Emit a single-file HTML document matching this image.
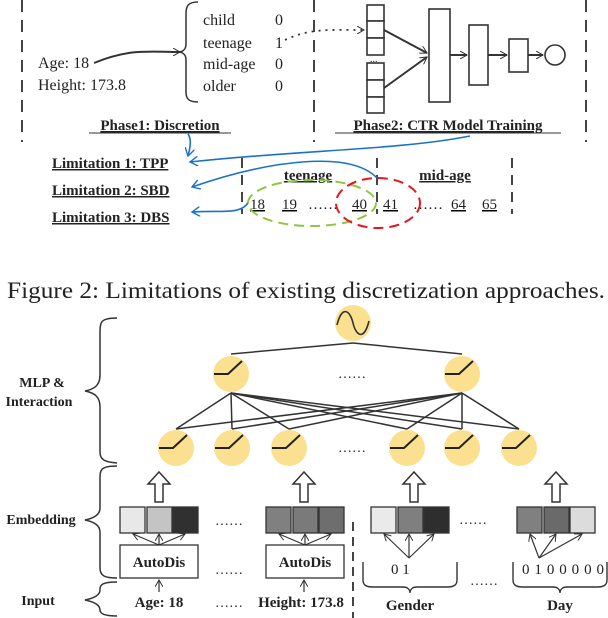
<!DOCTYPE html>
<html><head><meta charset="utf-8"><style>
html,body{margin:0;padding:0;background:#fff;}
svg{display:block;}
text{font-family:"Liberation Serif",serif;fill:#222;}
.b{font-weight:bold;}
</style></head><body>
<svg width="608" height="618" viewBox="0 0 608 618" xmlns="http://www.w3.org/2000/svg">
<defs>
<marker id="oa" markerWidth="8" markerHeight="8" refX="7" refY="4" orient="auto" markerUnits="userSpaceOnUse"><path d="M0,0 L7,4 L0,8" fill="none" stroke="#333" stroke-width="1"/></marker>
<marker id="ba" markerWidth="10" markerHeight="10" refX="8" refY="5" orient="auto" markerUnits="userSpaceOnUse"><path d="M0,0 L8,5 L0,10" fill="none" stroke="#1a72c8" stroke-width="1.4"/></marker>
</defs>
<g stroke="#444" stroke-width="2" stroke-dasharray="12,8">
<line x1="22" y1="0" x2="22" y2="142"/><line x1="314" y1="0" x2="314" y2="142"/><line x1="586" y1="0" x2="586" y2="142"/>
</g>
<text x="38" y="68" font-size="16">Age: 18</text>
<text x="38" y="90" font-size="16">Height: 173.8</text>
<path d="M94,63 C130,48 150,52 180,52" fill="none" stroke="#333" stroke-width="2" marker-end="url(#oa)"/>
<path d="M198,2 C188,2 186,6 186,14 L186,44 C186,50 182,52 178,52 C182,52 186,54 186,60 L186,92 C186,98 188,102 198,102" fill="none" stroke="#333" stroke-width="1.5"/>
<g font-size="16"><text x="203" y="25">child</text><text x="203" y="48">teenage</text><text x="203" y="69">mid-age</text><text x="203" y="91">older</text>
<text x="275" y="25">0</text><text x="275" y="48">1</text><text x="275" y="69">0</text><text x="275" y="91">0</text></g>
<path d="M285,40 C310,28 330,30 364,30" fill="none" stroke="#333" stroke-width="1.8" stroke-dasharray="2,5" marker-end="url(#oa)"/>
<g fill="#fff" stroke="#333" stroke-width="1.6">
<rect x="367" y="5" width="17" height="16"/><rect x="367" y="21" width="17" height="17"/><rect x="367" y="38" width="17" height="17"/>
<rect x="367" y="63" width="17" height="17"/><rect x="367" y="80" width="17" height="17"/><rect x="367" y="97" width="17" height="16"/>
<rect x="429" y="9" width="21" height="93"/><rect x="469" y="25" width="19" height="60"/><rect x="509" y="39" width="19" height="33"/>
<circle cx="555" cy="55" r="10"/></g>
<text x="370" y="62" font-size="10">...</text>
<g stroke="#333" stroke-width="2" fill="none">
<line x1="384" y1="30" x2="427" y2="53" marker-end="url(#oa)"/><line x1="384" y1="88" x2="427" y2="57" marker-end="url(#oa)"/>
<line x1="450" y1="55" x2="467" y2="55" marker-end="url(#oa)"/><line x1="488" y1="55" x2="507" y2="55" marker-end="url(#oa)"/><line x1="528" y1="55" x2="543" y2="55" marker-end="url(#oa)"/>
</g>
<text x="160" y="130" font-size="15" class="b" text-anchor="middle" text-decoration="underline">Phase1: Discretion</text>
<line x1="89" y1="133" x2="231" y2="133" stroke="#333"/>
<text x="448" y="130" font-size="15" class="b" text-anchor="middle" text-decoration="underline">Phase2: CTR Model Training</text>
<line x1="335" y1="133" x2="561" y2="133" stroke="#333"/>
<g font-size="15" class="b">
<text x="52" y="168" text-decoration="underline">Limitation 1: TPP</text>
<text x="52" y="195" text-decoration="underline">Limitation 2: SBD</text>
<text x="52" y="222" text-decoration="underline">Limitation 3: DBS</text>
<text x="308" y="180" text-anchor="middle" text-decoration="underline">teenage</text>
<text x="445" y="180" text-anchor="middle" text-decoration="underline">mid-age</text></g>
<g stroke="#444" stroke-width="2" stroke-dasharray="10,7">
<line x1="242" y1="158" x2="242" y2="214"/><line x1="377" y1="158" x2="377" y2="214"/><line x1="512" y1="158" x2="512" y2="214"/></g>
<g font-size="15" text-decoration="underline"><text x="250" y="209">18</text><text x="282" y="209">19</text><text x="352" y="209">40</text><text x="383" y="209">41</text><text x="451" y="209">64</text><text x="482" y="209">65</text></g>
<text x="308" y="209" font-size="15">……</text><text x="413" y="209" font-size="15">……</text>
<ellipse cx="312" cy="203" rx="64" ry="23" fill="none" stroke="#8dc63f" stroke-width="2" stroke-dasharray="10,6"/>
<ellipse cx="378" cy="203" rx="42" ry="25" fill="none" stroke="#e8141c" stroke-width="2" stroke-dasharray="10,6"/>
<g stroke="#1a72c8" stroke-width="1.6" fill="none">
<path d="M188,134 C192,140 190,148 188,156" marker-end="url(#ba)"/>
<path d="M470,136 C400,150 300,150 190,162" marker-end="url(#ba)"/>
<path d="M377,178 C350,150 270,160 192,187" marker-end="url(#ba)"/>
<path d="M248,203 C240,215 220,210 192,212" marker-end="url(#ba)"/></g>
<text x="306" y="298" font-size="23" text-anchor="middle" textLength="598" lengthAdjust="spacingAndGlyphs">Figure 2: Limitations of existing discretization approaches.</text>
<g font-size="14" class="b" text-anchor="middle"><text x="42" y="387">MLP &amp;</text><text x="39" y="406">Interaction</text><text x="41" y="524">Embedding</text><text x="38" y="605">Input</text></g>
<g stroke="#333" stroke-width="1.5" fill="none">
<path d="M117,318 C100,318 100,322 100,335 L100,375 C100,385 95,389 85,391 C95,393 100,397 100,407 L100,452 C100,460 105,462 117,463"/>
<path d="M117,466 C100,466 100,470 100,480 L100,508 C100,514 95,518 85,520 C95,522 100,526 100,532 L100,568 C100,576 105,578 117,578"/>
<path d="M117,582 C100,582 100,586 100,590 C100,595 95,598 85,600 C95,602 100,605 100,610 C100,614 105,616 117,616"/></g>
<g stroke="#333" stroke-width="1.5">
<line x1="231" y1="354" x2="353" y2="343"/><line x1="462" y1="354" x2="353" y2="343"/>
<line x1="231" y1="393" x2="176" y2="429"/><line x1="231" y1="393" x2="232" y2="429"/><line x1="231" y1="393" x2="289" y2="429"/><line x1="231" y1="393" x2="407" y2="429"/><line x1="231" y1="393" x2="462" y2="429"/><line x1="231" y1="393" x2="519" y2="429"/>
<line x1="462" y1="393" x2="176" y2="429"/><line x1="462" y1="393" x2="232" y2="429"/><line x1="462" y1="393" x2="289" y2="429"/><line x1="462" y1="393" x2="407" y2="429"/><line x1="462" y1="393" x2="462" y2="429"/><line x1="462" y1="393" x2="519" y2="429"/>
</g>
<g fill="#fbe08f">
<circle cx="353" cy="323" r="18"/><circle cx="231" cy="374" r="18"/><circle cx="462" cy="374" r="18"/>
<circle cx="176" cy="448" r="18"/><circle cx="232" cy="448" r="18"/><circle cx="289" cy="448" r="18"/><circle cx="407" cy="448" r="18"/><circle cx="462" cy="448" r="18"/><circle cx="519" cy="448" r="18"/></g>
<path d="M337,325 C342,305 350,310 353,323 C356,336 364,341 369,321" fill="none" stroke="#333" stroke-width="1.6"/>
<g stroke="#222" stroke-width="2" fill="none">
<path d="M214,374 h14 l14,-13"/><path d="M445,374 h14 l14,-13"/>
<path d="M159,448 h14 l14,-13"/><path d="M215,448 h14 l14,-13"/><path d="M272,448 h14 l14,-13"/><path d="M390,448 h14 l14,-13"/><path d="M445,448 h14 l14,-13"/><path d="M502,448 h14 l14,-13"/></g>
<g font-size="14"><text x="338" y="378">……</text><text x="338" y="452">……</text></g>
<g fill="#fff" stroke="#333" stroke-width="1.5">
<path d="M155,502 v-18 h-7 l11,-12 l11,12 h-7 v18 z"/>
<path d="M300,502 v-18 h-7 l11,-12 l11,12 h-7 v18 z"/>
<path d="M410,502 v-18 h-7 l11,-12 l11,12 h-7 v18 z"/>
<path d="M552,502 v-18 h-7 l11,-12 l11,12 h-7 v18 z"/></g>
<g stroke="#333" stroke-width="1.3">
<rect x="120" y="507" width="25" height="26" fill="#e8e8e8"/><rect x="147" y="507" width="25" height="26" fill="#c4c4c4"/><rect x="173" y="507" width="25" height="26" fill="#303030"/>
<rect x="266" y="507" width="25" height="26" fill="#808080"/><rect x="293" y="507" width="25" height="26" fill="#7a7a7a"/><rect x="319" y="507" width="25" height="26" fill="#6e6e6e"/>
<rect x="371" y="507" width="25" height="26" fill="#eaeaea"/><rect x="398" y="507" width="25" height="26" fill="#7f7f7f"/><rect x="424" y="507" width="25" height="26" fill="#2e2e2e"/>
<rect x="517" y="507" width="25" height="26" fill="#808080"/><rect x="544" y="507" width="25" height="26" fill="#6a6a6a"/><rect x="570" y="507" width="25" height="26" fill="#dcdcdc"/>
<rect x="120" y="545" width="78" height="33" fill="#fff"/><rect x="266" y="545" width="78" height="33" fill="#fff"/></g>
<g stroke="#333" stroke-width="1.2" fill="none">
<line x1="159" y1="545" x2="133" y2="534" marker-end="url(#oa)"/><line x1="159" y1="545" x2="159" y2="534" marker-end="url(#oa)"/><line x1="159" y1="545" x2="185" y2="534" marker-end="url(#oa)"/>
<line x1="305" y1="545" x2="279" y2="534" marker-end="url(#oa)"/><line x1="305" y1="545" x2="305" y2="534" marker-end="url(#oa)"/><line x1="305" y1="545" x2="331" y2="534" marker-end="url(#oa)"/>
<line x1="159" y1="592" x2="159" y2="580" marker-end="url(#oa)"/><line x1="304" y1="592" x2="304" y2="580" marker-end="url(#oa)"/>
<line x1="409" y1="558" x2="384" y2="534" marker-end="url(#oa)"/><line x1="409" y1="558" x2="409" y2="534" marker-end="url(#oa)"/><line x1="409" y1="558" x2="434" y2="534" marker-end="url(#oa)"/>
<line x1="539" y1="558" x2="530" y2="534" marker-end="url(#oa)"/><line x1="539" y1="558" x2="556" y2="534" marker-end="url(#oa)"/><line x1="539" y1="558" x2="582" y2="534" marker-end="url(#oa)"/>
<path d="M363,562 v18 c0,5 3,7 10,7 h30 c4,0 7,2 7,6 c0,-4 3,-6 7,-6 h30 c7,0 10,-2 10,-7 v-18" stroke-width="1.4"/>
<path d="M513,562 v18 c0,5 3,7 10,7 h30 c4,0 7,2 7,6 c0,-4 3,-6 7,-6 h30 c7,0 10,-2 10,-7 v-18" stroke-width="1.4"/></g>
<line x1="353" y1="522" x2="353" y2="618" stroke="#444" stroke-width="2" stroke-dasharray="9,6"/>
<g font-size="15" class="b" text-anchor="middle"><text x="159" y="567">AutoDis</text><text x="305" y="567">AutoDis</text>
<text x="159" y="607">Age: 18</text><text x="301" y="607">Height: 173.8</text><text x="410" y="610">Gender</text><text x="560" y="610">Day</text></g>
<g font-size="14"><text x="215" y="525">……</text><text x="215" y="574">……</text><text x="215" y="607">……</text><text x="459" y="524">……</text><text x="470" y="585">……</text></g>
<g font-size="15"><text x="391" y="574">0  1</text><text x="522" y="574" textLength="82" lengthAdjust="spacing">0100000</text></g>
</svg>
</body></html>
